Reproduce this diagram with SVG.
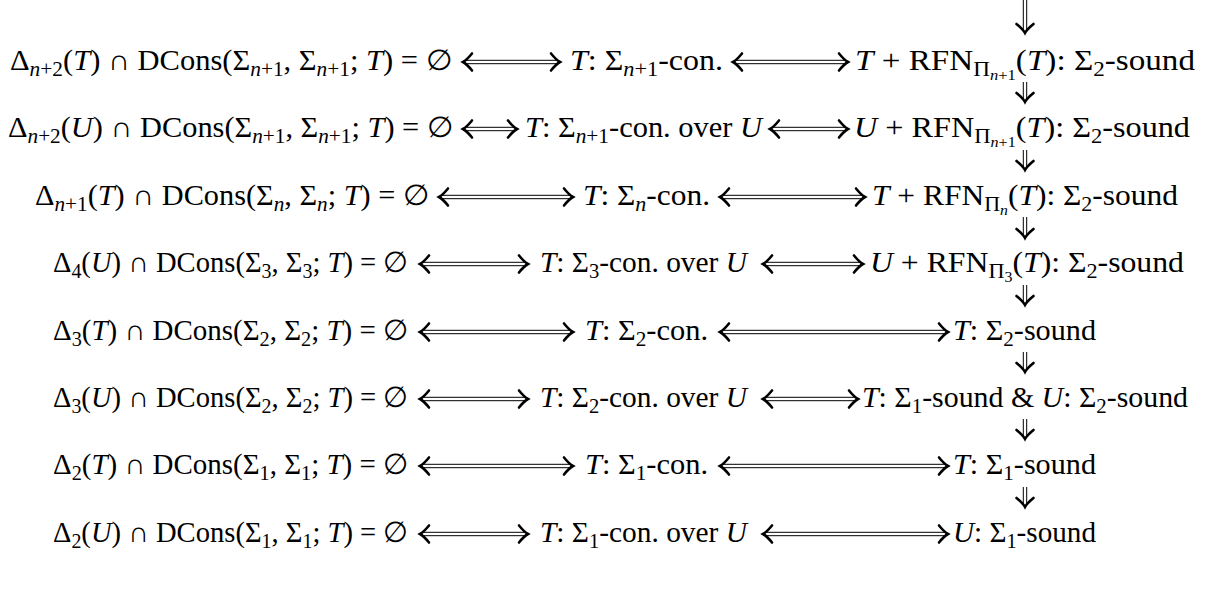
<svg xmlns="http://www.w3.org/2000/svg" xmlns:xlink="http://www.w3.org/1999/xlink" width="1207" height="601" viewBox="0 0 1207 601">
<style>
text{font-family:"Liberation Serif","DejaVu Serif",serif;font-size:29px;fill:#000;text-anchor:middle}
.i{font-style:italic}
.sb{font-size:20.3px}
.ss{font-size:14.5px}
.dl{stroke:#000;stroke-width:1;fill:none}
</style>
<defs>
<path id="h" d="M-9,-8.5 C-5.5,-4.2 -2.4,-1.3 0,0 C-2.4,1.3 -5.5,4.2 -9,8.5" fill="none" stroke="#000" stroke-width="2.6" stroke-linecap="round"/>
</defs>
<rect width="1207" height="601" fill="#fff"/>
<g id="connectors">
<path class="dl" d="M465 60.3H558M465 63.7H558"/><use xlink:href="#h" transform="translate(463,62) rotate(180)"/><use xlink:href="#h" transform="translate(560,62)"/>
<path class="dl" d="M735 60.3H846M735 63.7H846"/><use xlink:href="#h" transform="translate(733,62) rotate(180)"/><use xlink:href="#h" transform="translate(848,62)"/>
<path class="dl" d="M465 127.3H515M465 130.7H515"/><use xlink:href="#h" transform="translate(463,129) rotate(180)"/><use xlink:href="#h" transform="translate(517,129)"/>
<path class="dl" d="M772 127.3H846M772 130.7H846"/><use xlink:href="#h" transform="translate(770,129) rotate(180)"/><use xlink:href="#h" transform="translate(848,129)"/>
<path class="dl" d="M441 195.3H571M441 198.7H571"/><use xlink:href="#h" transform="translate(439,197) rotate(180)"/><use xlink:href="#h" transform="translate(573,197)"/>
<path class="dl" d="M722 195.3H863M722 198.7H863"/><use xlink:href="#h" transform="translate(720,197) rotate(180)"/><use xlink:href="#h" transform="translate(865,197)"/>
<path class="dl" d="M422 262.3H526M422 265.7H526"/><use xlink:href="#h" transform="translate(420,264) rotate(180)"/><use xlink:href="#h" transform="translate(528,264)"/>
<path class="dl" d="M765 262.3H861M765 265.7H861"/><use xlink:href="#h" transform="translate(763,264) rotate(180)"/><use xlink:href="#h" transform="translate(863,264)"/>
<path class="dl" d="M422 330.3H571M422 333.7H571"/><use xlink:href="#h" transform="translate(420,332) rotate(180)"/><use xlink:href="#h" transform="translate(573,332)"/>
<path class="dl" d="M722 330.3H946M722 333.7H946"/><use xlink:href="#h" transform="translate(720,332) rotate(180)"/><use xlink:href="#h" transform="translate(948,332)"/>
<path class="dl" d="M422 397.3H526M422 400.7H526"/><use xlink:href="#h" transform="translate(420,399) rotate(180)"/><use xlink:href="#h" transform="translate(528,399)"/>
<path class="dl" d="M765 397.3H856M765 400.7H856"/><use xlink:href="#h" transform="translate(763,399) rotate(180)"/><use xlink:href="#h" transform="translate(858,399)"/>
<path class="dl" d="M422 464.3H571M422 467.7H571"/><use xlink:href="#h" transform="translate(420,466) rotate(180)"/><use xlink:href="#h" transform="translate(573,466)"/>
<path class="dl" d="M722 464.3H946M722 467.7H946"/><use xlink:href="#h" transform="translate(720,466) rotate(180)"/><use xlink:href="#h" transform="translate(948,466)"/>
<path class="dl" d="M422 532.3H526M422 535.7H526"/><use xlink:href="#h" transform="translate(420,534) rotate(180)"/><use xlink:href="#h" transform="translate(528,534)"/>
<path class="dl" d="M765 532.3H946M765 535.7H946"/><use xlink:href="#h" transform="translate(763,534) rotate(180)"/><use xlink:href="#h" transform="translate(948,534)"/>
<path class="dl" d="M1023.3 -5V31M1026.7 -5V31"/><use xlink:href="#h" transform="translate(1025,33) rotate(90)"/>
<path class="dl" d="M1023.3 82V100M1026.7 82V100M1023.3 150V168M1026.7 150V168M1023.3 217V236M1026.7 217V236M1023.3 285V303M1026.7 285V303M1023.3 352V370M1026.7 352V370M1023.3 419V437M1026.7 419V437M1023.3 487V505M1026.7 487V505"/>
<use xlink:href="#h" transform="translate(1025,102) rotate(90)"/>
<use xlink:href="#h" transform="translate(1025,170) rotate(90)"/>
<use xlink:href="#h" transform="translate(1025,238) rotate(90)"/>
<use xlink:href="#h" transform="translate(1025,305) rotate(90)"/>
<use xlink:href="#h" transform="translate(1025,372) rotate(90)"/>
<use xlink:href="#h" transform="translate(1025,439) rotate(90)"/>
<use xlink:href="#h" transform="translate(1025,507) rotate(90)"/>
</g>
<g id="L1"><text x="231" y="70" textLength="442" lengthAdjust="spacingAndGlyphs">Δ<tspan class="sb" dy="6"><tspan class="i">n</tspan>+2</tspan><tspan dy="-6">(</tspan><tspan class="i">T</tspan>) ∩ DCons(Σ<tspan class="sb" dy="6"><tspan class="i">n</tspan>+1</tspan><tspan dy="-6">, Σ</tspan><tspan class="sb" dy="6"><tspan class="i">n</tspan>+1</tspan><tspan dy="-6">; </tspan><tspan class="i">T</tspan>) = ∅</text></g>
<g id="L2"><text x="230.5" y="137" textLength="445" lengthAdjust="spacingAndGlyphs">Δ<tspan class="sb" dy="6"><tspan class="i">n</tspan>+2</tspan><tspan dy="-6">(</tspan><tspan class="i">U</tspan>) ∩ DCons(Σ<tspan class="sb" dy="6"><tspan class="i">n</tspan>+1</tspan><tspan dy="-6">, Σ</tspan><tspan class="sb" dy="6"><tspan class="i">n</tspan>+1</tspan><tspan dy="-6">; </tspan><tspan class="i">T</tspan>) = ∅</text></g>
<g id="L3"><text x="232" y="205" textLength="394" lengthAdjust="spacingAndGlyphs">Δ<tspan class="sb" dy="6"><tspan class="i">n</tspan>+1</tspan><tspan dy="-6">(</tspan><tspan class="i">T</tspan>) ∩ DCons(Σ<tspan class="sb i" dy="6">n</tspan><tspan dy="-6">, Σ</tspan><tspan class="sb i" dy="6">n</tspan><tspan dy="-6">; </tspan><tspan class="i">T</tspan>) = ∅</text></g>
<g id="L4"><text x="230.5" y="272" textLength="355" lengthAdjust="spacingAndGlyphs">Δ<tspan class="sb" dy="6">4</tspan><tspan dy="-6">(</tspan><tspan class="i">U</tspan>) ∩ DCons(Σ<tspan class="sb" dy="6">3</tspan><tspan dy="-6">, Σ</tspan><tspan class="sb" dy="6">3</tspan><tspan dy="-6">; </tspan><tspan class="i">T</tspan>) = ∅</text></g>
<g id="L5"><text x="230.5" y="340" textLength="355" lengthAdjust="spacingAndGlyphs">Δ<tspan class="sb" dy="6">3</tspan><tspan dy="-6">(</tspan><tspan class="i">T</tspan>) ∩ DCons(Σ<tspan class="sb" dy="6">2</tspan><tspan dy="-6">, Σ</tspan><tspan class="sb" dy="6">2</tspan><tspan dy="-6">; </tspan><tspan class="i">T</tspan>) = ∅</text></g>
<g id="L6"><text x="230.5" y="407" textLength="355" lengthAdjust="spacingAndGlyphs">Δ<tspan class="sb" dy="6">3</tspan><tspan dy="-6">(</tspan><tspan class="i">U</tspan>) ∩ DCons(Σ<tspan class="sb" dy="6">2</tspan><tspan dy="-6">, Σ</tspan><tspan class="sb" dy="6">2</tspan><tspan dy="-6">; </tspan><tspan class="i">T</tspan>) = ∅</text></g>
<g id="L7"><text x="230.5" y="474" textLength="355" lengthAdjust="spacingAndGlyphs">Δ<tspan class="sb" dy="6">2</tspan><tspan dy="-6">(</tspan><tspan class="i">T</tspan>) ∩ DCons(Σ<tspan class="sb" dy="6">1</tspan><tspan dy="-6">, Σ</tspan><tspan class="sb" dy="6">1</tspan><tspan dy="-6">; </tspan><tspan class="i">T</tspan>) = ∅</text></g>
<g id="L8"><text x="230.5" y="542" textLength="355" lengthAdjust="spacingAndGlyphs">Δ<tspan class="sb" dy="6">2</tspan><tspan dy="-6">(</tspan><tspan class="i">U</tspan>) ∩ DCons(Σ<tspan class="sb" dy="6">1</tspan><tspan dy="-6">, Σ</tspan><tspan class="sb" dy="6">1</tspan><tspan dy="-6">; </tspan><tspan class="i">T</tspan>) = ∅</text></g>
<g id="M1"><text x="646.5" y="70" textLength="153" lengthAdjust="spacingAndGlyphs"><tspan class="i">T</tspan>: Σ<tspan class="sb" dy="6"><tspan class="i">n</tspan>+1</tspan><tspan dy="-6">-con.</tspan></text></g>
<g id="M2"><text x="643.5" y="137" textLength="237" lengthAdjust="spacingAndGlyphs"><tspan class="i">T</tspan>: Σ<tspan class="sb" dy="6"><tspan class="i">n</tspan>+1</tspan><tspan dy="-6">-con. over </tspan><tspan class="i">U</tspan></text></g>
<g id="M3"><text x="646.5" y="205" textLength="127" lengthAdjust="spacingAndGlyphs"><tspan class="i">T</tspan>: Σ<tspan class="sb i" dy="6">n</tspan><tspan dy="-6">-con.</tspan></text></g>
<g id="M4"><text x="643.5" y="272" textLength="207" lengthAdjust="spacingAndGlyphs"><tspan class="i">T</tspan>: Σ<tspan class="sb" dy="6">3</tspan><tspan dy="-6">-con. over </tspan><tspan class="i">U</tspan></text></g>
<g id="M5"><text x="646.5" y="340" textLength="123" lengthAdjust="spacingAndGlyphs"><tspan class="i">T</tspan>: Σ<tspan class="sb" dy="6">2</tspan><tspan dy="-6">-con.</tspan></text></g>
<g id="M6"><text x="643.5" y="407" textLength="207" lengthAdjust="spacingAndGlyphs"><tspan class="i">T</tspan>: Σ<tspan class="sb" dy="6">2</tspan><tspan dy="-6">-con. over </tspan><tspan class="i">U</tspan></text></g>
<g id="M7"><text x="646.5" y="474" textLength="123" lengthAdjust="spacingAndGlyphs"><tspan class="i">T</tspan>: Σ<tspan class="sb" dy="6">1</tspan><tspan dy="-6">-con.</tspan></text></g>
<g id="M8"><text x="643.5" y="542" textLength="207" lengthAdjust="spacingAndGlyphs"><tspan class="i">T</tspan>: Σ<tspan class="sb" dy="6">1</tspan><tspan dy="-6">-con. over </tspan><tspan class="i">U</tspan></text></g>
<g id="R1"><text x="1025" y="70" textLength="340" lengthAdjust="spacingAndGlyphs"><tspan class="i">T</tspan> + RFN<tspan class="sb" dy="6">Π</tspan><tspan class="ss" dy="4"><tspan class="i">n</tspan>+1</tspan><tspan dy="-10">(</tspan><tspan class="i">T</tspan>): Σ<tspan class="sb" dy="6">2</tspan><tspan dy="-6">-sound</tspan></text></g>
<g id="R2"><text x="1022" y="137" textLength="336" lengthAdjust="spacingAndGlyphs"><tspan class="i">U</tspan> + RFN<tspan class="sb" dy="6">Π</tspan><tspan class="ss" dy="4"><tspan class="i">n</tspan>+1</tspan><tspan dy="-10">(</tspan><tspan class="i">T</tspan>): Σ<tspan class="sb" dy="6">2</tspan><tspan dy="-6">-sound</tspan></text></g>
<g id="R3"><text x="1025" y="205" textLength="306" lengthAdjust="spacingAndGlyphs"><tspan class="i">T</tspan> + RFN<tspan class="sb" dy="6">Π</tspan><tspan class="ss i" dy="4">n</tspan><tspan dy="-10">(</tspan><tspan class="i">T</tspan>): Σ<tspan class="sb" dy="6">2</tspan><tspan dy="-6">-sound</tspan></text></g>
<g id="R4"><text x="1027" y="272" textLength="314" lengthAdjust="spacingAndGlyphs"><tspan class="i">U</tspan> + RFN<tspan class="sb" dy="6">Π</tspan><tspan class="ss" dy="4">3</tspan><tspan dy="-10">(</tspan><tspan class="i">T</tspan>): Σ<tspan class="sb" dy="6">2</tspan><tspan dy="-6">-sound</tspan></text></g>
<g id="R5"><text x="1024.5" y="340" textLength="143" lengthAdjust="spacingAndGlyphs"><tspan class="i">T</tspan>: Σ<tspan class="sb" dy="6">2</tspan><tspan dy="-6">-sound</tspan></text></g>
<g id="R6"><text x="1025" y="407" textLength="326" lengthAdjust="spacingAndGlyphs"><tspan class="i">T</tspan>: Σ<tspan class="sb" dy="6">1</tspan><tspan dy="-6">-sound &amp; </tspan><tspan class="i">U</tspan>: Σ<tspan class="sb" dy="6">2</tspan><tspan dy="-6">-sound</tspan></text></g>
<g id="R7"><text x="1024.5" y="474" textLength="143" lengthAdjust="spacingAndGlyphs"><tspan class="i">T</tspan>: Σ<tspan class="sb" dy="6">1</tspan><tspan dy="-6">-sound</tspan></text></g>
<g id="R8"><text x="1024.5" y="542" textLength="143" lengthAdjust="spacingAndGlyphs"><tspan class="i">U</tspan>: Σ<tspan class="sb" dy="6">1</tspan><tspan dy="-6">-sound</tspan></text></g>
</svg>
